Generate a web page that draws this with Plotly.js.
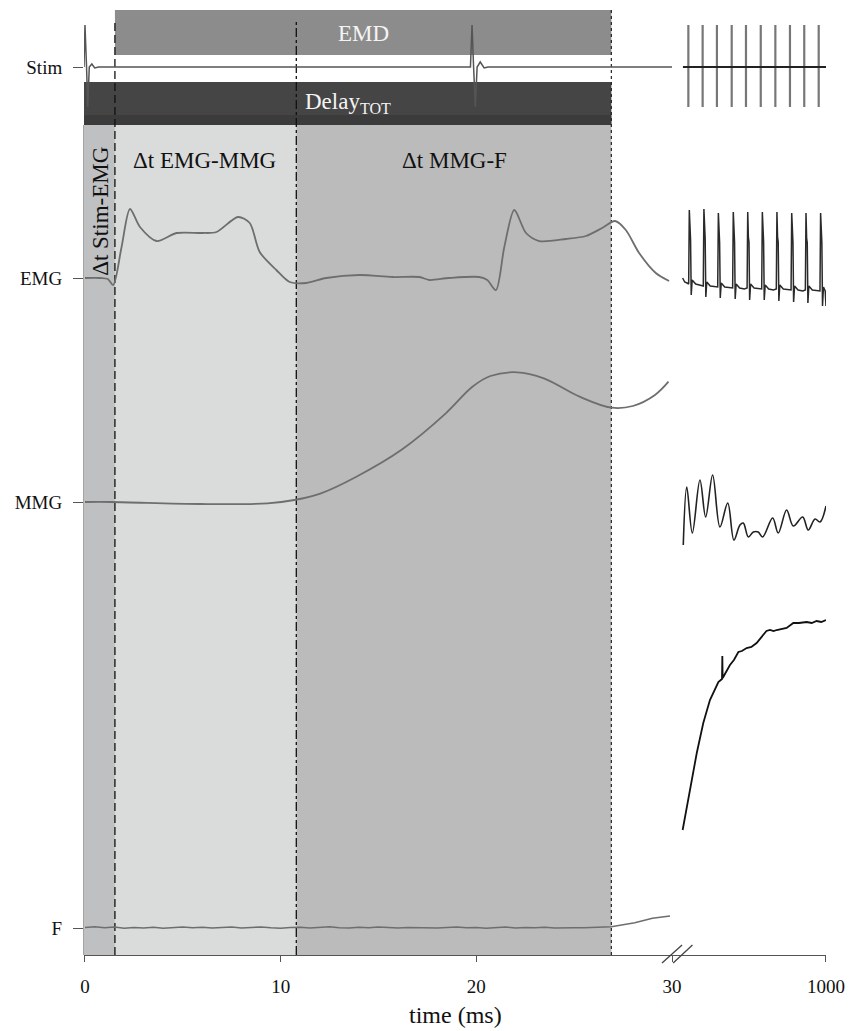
<!DOCTYPE html>
<html>
<head>
<meta charset="utf-8">
<script src="https://cdn.plot.ly/plotly-3.0.1.min.js"></script>
<style>html,body{margin:0;padding:0;background:#fff;}#chart{width:856px;height:1031px;}</style>
</head>
<body>
<div id="chart"></div>
<script>
// ---- channel labels and baselines (arbitrary vertical units) ----
const chanNames = ['Stim', 'EMG', 'MMG', 'F'];
const chanBase = [888, 677, 453, 27];

// ---- event times (ms) ----
const tEMG = 1.53;   // EMG onset
const tMMG = 10.8;   // MMG onset
const tF = 26.9;     // Force onset

// ---- left panel (0-30 ms) ----
const stimX = [-0.05, 0.0, 0.08, 0.14, 0.22, 0.35, 0.5, 0.7, 19.7, 19.78, 19.86, 19.95, 20.04, 20.2, 20.4, 20.6, 30];
const stimY = [0, 42, 0, -40, 0, 3, -1, 0, 0, 42, 0, -40, 0, 5, -1, 0, 0];

const emgX = [0, 0.77, 1.17, 1.44, 1.87, 2.30, 2.81, 3.66, 4.68, 6.02, 6.72, 7.82, 8.42, 8.93, 9.78, 10.46, 11.31, 12.33, 14.03, 15.71, 17.09, 17.6, 18.6, 20.15, 20.56, 21.0, 21.43, 21.94, 22.54, 23.21, 24.58, 25.60, 26.43, 27.09, 27.64, 28.32, 29.17, 29.85];
const emgY = [0, 0, -1, -7, 31, 69, 51, 37, 45, 45, 46, 61, 55, 26, 8, -4, -5, 0, 3, 1, 1, -2, 0, 1, -2, -12, 31, 68, 45, 37, 39, 42, 50, 57, 48, 25, 5, -3];

const mmgX = [0, 1.35, 5.9, 9.33, 10.7, 12.06, 13.87, 16.16, 18.44, 19.8, 20.72, 22.09, 23.45, 25.28, 26.91, 28.0, 29.13, 29.82];
const mmgY = [0, 0, -2, -1.3, 2, 8.7, 25.3, 52, 88.7, 115.3, 126, 129.7, 123.7, 105.3, 94.3, 96, 107, 120.3];

const fX = [0, 0.5, 1, 1.5, 2, 2.5, 3, 3.5, 4, 4.5, 5, 5.5, 6, 6.5, 7, 7.5, 8, 8.5, 9, 9.5, 10, 10.5, 11, 11.5, 12, 12.5, 13, 13.5, 14, 14.5, 15, 15.5, 16, 16.5, 17, 17.5, 18, 18.5, 19, 19.5, 20, 20.5, 21, 21.5, 22, 22.5, 23, 23.5, 24, 24.5, 25, 25.5, 26, 26.9, 28.1, 29.0, 29.9];
const fY = [0.5, 1.2, 0.3, 0.9, -0.2, 0.6, 0.1, 0.8, -0.3, 0.5, 1.0, 0.2, 0.7, -0.1, 0.4, 0.9, 0.0, 0.6, 1.1, 0.2, -0.2, 0.5, 0.8, 0.1, 0.6, 1.2, 0.3, 0.0, 0.7, 0.2, 0.9, 0.4, -0.1, 0.5, 0.3, 0.8, 0.0, 0.6, 1.0, 0.2, 0.5, -0.2, 0.4, 0.9, 0.1, 0.6, 0.3, 0.7, 0.0, 0.4, 0.2, 0.3, 0.5, 1.3, 5.3, 9.7, 12];

// ---- right panel (30-1000 ms, compressed) ----
const stimRX = [99, 1000];
const stimRY = [0, 0];
const stimSpikeT = [133, 223, 313, 406, 496, 589, 681, 773, 863, 954];
const stimSpikeTop = 42;
const stimSpikeBottom = -40;

const emgRX = [97, 110, 125,
  135, 139, 143, 147, 151, 157, 179, 209,
  227, 231, 235, 239, 243, 249, 271, 301,
  318, 322, 326, 330, 334, 340, 362, 392,
  412, 416, 420, 424, 428, 434, 456, 486,
  503, 507, 511, 515, 519, 525, 547, 577,
  595, 599, 603, 607, 611, 617, 639, 669,
  687, 691, 695, 699, 703, 709, 731, 761,
  780, 784, 788, 792, 796, 802, 824, 854,
  870, 874, 878, 882, 886, 892, 914, 944,
  962, 966, 970, 974, 978, 984, 995, 1000];
const emgRY = [0, -4, -5,
  -6, 68, 43, 38, -17, -2, -6, -7,
  -8, 69, 44, 39, -19, -4, -8, -9,
  -9, 65, 40, 35, -20, -5, -9, -10,
  -10, 66, 41, 36, -21, -6, -10, -11,
  -10, 66, 41, 36, -22, -6, -10, -11,
  -11, 66, 41, 36, -22, -7, -11, -12,
  -11, 66, 41, 36, -23, -7, -11, -12,
  -12, 65, 40, 35, -24, -8, -12, -13,
  -12, 65, 40, 35, -25, -8, -12, -13,
  -13, 65, 40, 35, -28, -9, -13, -28];

const mmgRX = [101, 123, 158, 206, 242, 286, 332, 381, 420, 458, 479, 511, 542, 573, 601, 664, 699, 752, 794, 853, 888, 931, 962, 1000];
const mmgRY = [-43, 15, -31, 22, -15, 27, -25, -1, -38, -23, -21, -35, -30, -30, -35, -16, -31, -8, -24, -15, -28, -17, -20, -4];

const fRX = [97, 123, 154, 186, 227, 269, 322, 345, 347, 349, 353, 395, 420, 448, 470, 500, 530, 563, 585, 605, 625, 647, 670, 689, 720, 752, 794, 830, 878, 910, 941, 970, 1000];
const fRY = [98, 121, 148, 175, 205, 228, 246, 249, 272, 250, 251, 263, 268, 276, 277, 280, 281, 285, 289, 293, 297, 298, 297, 298, 299, 300, 305, 305, 306, 305, 307, 306, 308];

// ---- tick labels ----
const xTicksLeft = [0, 10, 20, 30];
const xTicksRight = [1000];

// ---- helpers ----
const off = (arr, b) => arr.map(v => v + b);
const [bStim, bEMG, bMMG, bF] = chanBase;

const grey = '#6e6e6e';
const traces = [];
const lineL = {color: grey, width: 1.8};
traces.push({x: stimX, y: off(stimY, bStim), mode: 'lines', line: {color: '#555', width: 1.5}, xaxis: 'x', yaxis: 'y', hoverinfo: 'skip'});
traces.push({x: emgX, y: off(emgY, bEMG), mode: 'lines', line: Object.assign({shape: 'spline', smoothing: 0.8}, lineL), xaxis: 'x', yaxis: 'y', hoverinfo: 'skip'});
traces.push({x: mmgX, y: off(mmgY, bMMG), mode: 'lines', line: Object.assign({shape: 'spline', smoothing: 1}, lineL), xaxis: 'x', yaxis: 'y', hoverinfo: 'skip'});
traces.push({x: fX, y: off(fY, bF), mode: 'lines', line: {color: grey, width: 1.5}, xaxis: 'x', yaxis: 'y', hoverinfo: 'skip'});

// right panel
const spX = [], spY = [];
stimSpikeT.forEach(t => { spX.push(t, t, null); spY.push(bStim + stimSpikeTop, bStim + stimSpikeBottom, null); });
traces.push({x: spX, y: spY, mode: 'lines', line: {color: '#777', width: 2.2}, xaxis: 'x2', yaxis: 'y', hoverinfo: 'skip', connectgaps: false});
traces.push({x: stimRX, y: off(stimRY, bStim), mode: 'lines', line: {color: '#222', width: 2.2}, xaxis: 'x2', yaxis: 'y', hoverinfo: 'skip'});
traces.push({x: emgRX, y: off(emgRY, bEMG), mode: 'lines', line: {color: '#2a2a2a', width: 1.5}, xaxis: 'x2', yaxis: 'y', hoverinfo: 'skip'});
traces.push({x: mmgRX, y: off(mmgRY, bMMG), mode: 'lines', line: {color: '#222', width: 1.6, shape: 'spline', smoothing: 1}, xaxis: 'x2', yaxis: 'y', hoverinfo: 'skip'});
traces.push({x: fRX, y: off(fRY, bF), mode: 'lines', line: {color: '#111', width: 1.8}, xaxis: 'x2', yaxis: 'y', hoverinfo: 'skip'});

const serif = 'Liberation Serif, Times New Roman, serif';
const yTopShade = 830;   // bottom of Delay bar
const shapes = [
  // shaded intervals
  {type: 'rect', xref: 'x', yref: 'y', x0: -0.05, x1: tEMG, y0: 0, y1: yTopShade, fillcolor: '#bfc0c1', line: {width: 0}, layer: 'below'},
  {type: 'rect', xref: 'x', yref: 'y', x0: tEMG, x1: tMMG, y0: 0, y1: yTopShade, fillcolor: '#dadbdb', line: {width: 0}, layer: 'below'},
  {type: 'rect', xref: 'x', yref: 'y', x0: tMMG, x1: tF, y0: 0, y1: yTopShade, fillcolor: '#bbbbbb', line: {width: 0}, layer: 'below'},
  // EMD bar
  {type: 'rect', xref: 'x', yref: 'y', x0: tEMG, x1: tF, y0: 900, y1: 945, fillcolor: '#8c8c8c', line: {width: 0}, layer: 'below'},
  // Delay bar
  {type: 'rect', xref: 'x', yref: 'y', x0: -0.05, x1: tF, y0: yTopShade, y1: 873, fillcolor: '#454545', line: {width: 0}, layer: 'below'},
  {type: 'rect', xref: 'x', yref: 'y', x0: -0.05, x1: tF, y0: yTopShade, y1: 840, fillcolor: '#3b3b3b', line: {width: 0}, layer: 'below'},
  // left axis line
  {type: 'line', xref: 'paper', yref: 'y', x0: 0, x1: 0, y0: 0, y1: yTopShade, line: {color: '#666', width: 1.2}, layer: 'below'},
  // event lines
  {type: 'line', xref: 'x', yref: 'y', x0: tEMG, x1: tEMG, y0: 0, y1: 933, line: {color: '#111', width: 1.3, dash: '8px,4px'}, layer: 'below'},
  {type: 'line', xref: 'x', yref: 'y', x0: tMMG, x1: tMMG, y0: 0, y1: 933, line: {color: '#111', width: 1.3, dash: 'dashdot'}, layer: 'below'},
  {type: 'line', xref: 'x', yref: 'y', x0: tF, x1: tF, y0: 0, y1: 945, line: {color: '#222', width: 1.2, dash: 'dot'}, layer: 'below'},
  // axis break marks
  {type: 'line', xref: 'paper', yref: 'paper', x0: 0.779, x1: 0.806, y0: -0.0084, y1: 0.0105, line: {color: '#444', width: 1.3}},
  {type: 'line', xref: 'paper', yref: 'paper', x0: 0.794, x1: 0.820, y0: -0.0084, y1: 0.0105, line: {color: '#444', width: 1.3}}
];

const annFont = (c) => ({family: serif, size: 23, color: c});
const annotations = [
  {text: 'EMD', x: (tEMG + tF) / 2, y: 922, xref: 'x', yref: 'y', showarrow: false, font: annFont('#f4f4f4')},
  {text: 'Delay<sub>TOT</sub>', x: (tF - 0.05) / 2, y: 852, xref: 'x', yref: 'y', showarrow: false, font: annFont('#f4f4f4')},
  {text: '\u0394t Stim-EMG', x: 0.76, y: 744, xref: 'x', yref: 'y', showarrow: false, textangle: -90, font: annFont('#111')},
  {text: '\u0394t EMG-MMG', x: 6.1, y: 795, xref: 'x', yref: 'y', showarrow: false, font: annFont('#111')},
  {text: '\u0394t MMG-F', x: 18.9, y: 795, xref: 'x', yref: 'y', showarrow: false, font: annFont('#111')},
  {text: 'time (ms)', x: 0.5, y: -0.063, xref: 'paper', yref: 'paper', showarrow: false, yanchor: 'middle', font: {family: serif, size: 24, color: '#111'}}
];

const tf = {family: serif, size: 19, color: '#111'};
const layout = {
  width: 856, height: 1031,
  margin: {l: 84, r: 30, t: 5, b: 76},
  paper_bgcolor: '#fff', plot_bgcolor: '#fff',
  showlegend: false,
  font: {family: serif, size: 19, color: '#111'},
  xaxis: {domain: [0, 0.79245], range: [-0.05, 30], tickvals: xTicksLeft, ticktext: xTicksLeft.map(String),
    showgrid: false, zeroline: false, showline: true, linecolor: '#555', linewidth: 1.2,
    ticks: 'outside', ticklen: 6, tickcolor: '#555', ticklabelstandoff: 8, tickfont: tf, anchor: 'y'},
  xaxis2: {domain: [0.79245, 1], range: [30, 1000], tickvals: xTicksRight, ticktext: xTicksRight.map(String),
    showgrid: false, zeroline: false, showline: true, linecolor: '#555', linewidth: 1.2,
    ticks: 'outside', ticklen: 6, tickcolor: '#555', ticklabelstandoff: 8, tickfont: tf, anchor: 'y'},
  yaxis: {range: [0, 950], tickvals: chanBase, ticktext: chanNames, showgrid: false, zeroline: false, showline: false,
    ticks: 'outside', ticklen: 10, tickcolor: '#555', ticklabelstandoff: 7, tickfont: tf},
  shapes: shapes,
  annotations: annotations
};

Plotly.newPlot('chart', traces, layout, {displayModeBar: false, staticPlot: true});
</script>
</body>
</html>
